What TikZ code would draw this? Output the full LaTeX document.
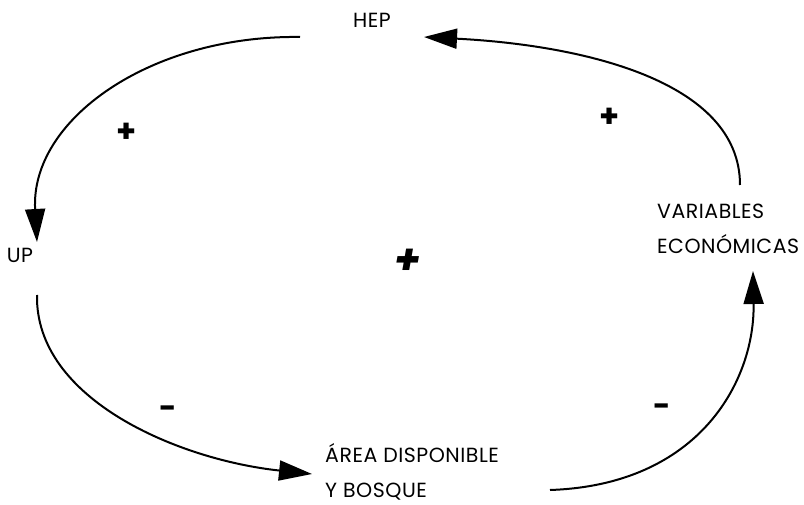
\documentclass[tikz,border=0pt]{standalone}
\usepackage{fontspec}
\setmainfont{Poppins}
\usetikzlibrary{arrows.meta}
\tikzset{
  var/.style={inner sep=0pt, font=\fontsize{20.5}{35}\selectfont\addfontfeatures{LetterSpace=2.5}, align=left},
  link/.style={line width=2pt, -{Triangle[length=33pt,width=20pt]}},
  sign/.style={font=\bfseries\fontsize{32}{32}\selectfont},
}

\begin{document}
\begin{tikzpicture}[x=1pt,y=-1pt]
\useasboundingbox (0,0) rectangle (804,505);

\node[var] (hep) at (372,20) {HEP};
\node[var] (up) at (20,255) {UP};
\node[var, anchor=west] (eco) at (657,229) {VARIABLES\\ECONÓMICAS};
\node[var, anchor=west] (area) at (325,472) {ÁREA DISPONIBLE\\Y BOSQUE};

\draw[link] ([shift={(-72,17)}]hep.center) .. controls +(-150,-2) and +(-7,-122) .. ([shift={(17,-13)}]up.center);
\draw[link] ([shift={(83,-44)}]eco.west) .. controls +(0,-105) and +(156,8) .. ([shift={(52,17)}]hep.center);
\draw[link] ([shift={(17,40)}]up.center) .. controls +(-2,105) and +(-132,-14) .. ([shift={(-13,2)}]area.west);
\draw[link] ([shift={(225,18)}]area.west) .. controls +(150,-5) and +(2,109) .. ([shift={(96,42)}]eco.west);

\node[sign] (s1) at (127,133) {+};
\node[sign] (s2) at (610,118) {+};
\node[sign, font=\bfseries\fontsize{30}{30}\selectfont] (s3) at (168,412) {-};
\node[sign, font=\bfseries\fontsize{30}{30}\selectfont] (s4) at (662,410) {-};
\node[sign, font=\bfseries\itshape\fontsize{42}{42}\selectfont] (loop) at (408,262) {+};

\end{tikzpicture}
\end{document}
